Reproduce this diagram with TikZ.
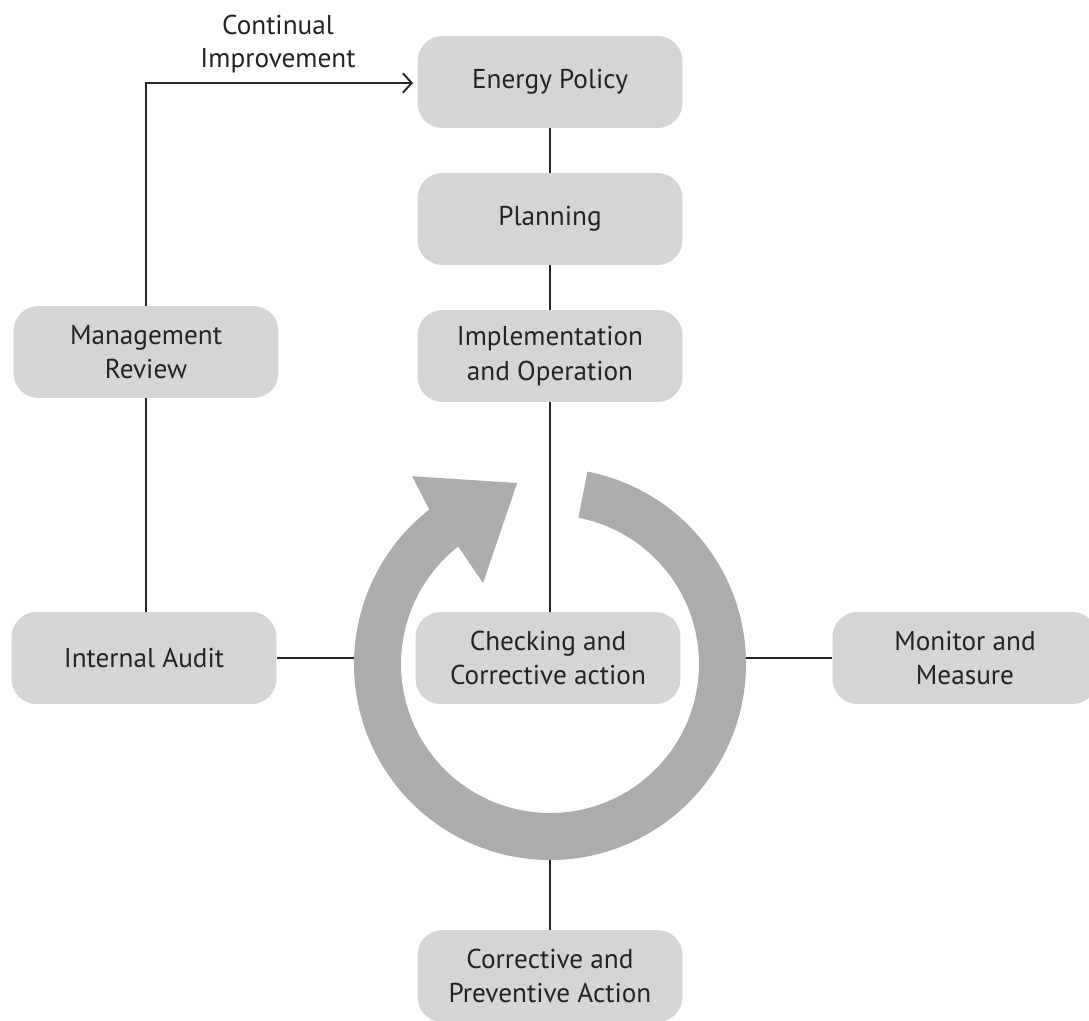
\documentclass[tikz,border=0pt]{standalone}
\usepackage{fontspec}
\setmainfont{PT Sans}
\usetikzlibrary{arrows.meta}
\definecolor{boxgray}{RGB}{213,213,213}
\definecolor{ringgray}{RGB}{172,172,172}
\definecolor{txt}{RGB}{35,35,35}
\begin{document}
\begin{tikzpicture}[x=0.02cm,y=-0.02cm,
  box/.style={fill=boxgray, rounded corners=0.5cm, minimum width=5.3cm, minimum height=1.84cm,
    align=center, text=txt, font=\fontsize{15.5}{19.5}\selectfont, inner sep=0pt},
  conn/.style={draw=black!85, line width=1.1pt}]
\useasboundingbox (0,0) rectangle (1089,1021);
% ring arrow
\begin{scope}[shift={(550,664)}, x=0.02cm, y=0.02cm]
  \fill[ringgray] (79:196) arc[start angle=79, end angle=-232, radius=196]
    -- (126.3:233) -- (100.3:184) -- (129.6:105) -- (128:149)
    arc[start angle=128, end angle=439, radius=149] -- cycle;
\end{scope}
\coordinate (ringL) at (354,658);
\coordinate (ringR) at (746,658);
\coordinate (ringB) at (550,860);
\coordinate (ciend) at (413,83);
% boxes
\node[box] (ep) at (550,82) {Energy Policy};
\node[box] (pl) at (550,219) {Planning};
\node[box] (io) at (550,356) {Implementation\\and Operation};
\node[box] (mr) at (146,352) {Management\\Review};
\node[box] (ia) at (144,658) {Internal Audit};
\node[box] (cc) at (548,658) {Checking and\\Corrective action};
\node[box] (mm) at (965,658) {Monitor and\\Measure};
\node[box] (cp) at (550,976) {Corrective and\\Preventive Action};
\node[align=center, text=txt, font=\fontsize{15.5}{18.5}\selectfont] (ci) at (278,44) {Continual\\Improvement};
% connectors
\draw[conn] (ep) -- (pl);
\draw[conn] (pl) -- (io);
\draw[conn] (io.south) -- (io.south |- cc.north);
\draw[conn] (mr.south) -- (mr.south |- ia.north);
\draw[conn] (ia.east) -- (ringL);
\draw[conn] (ringR) -- (mm.west);
\draw[conn] (ringB) -- (cp.north);
\draw[conn, -{Straight Barb[length=5pt, width=11pt, line width=1.1pt]}] (mr.north) |- (ciend);
\end{tikzpicture}
\end{document}
